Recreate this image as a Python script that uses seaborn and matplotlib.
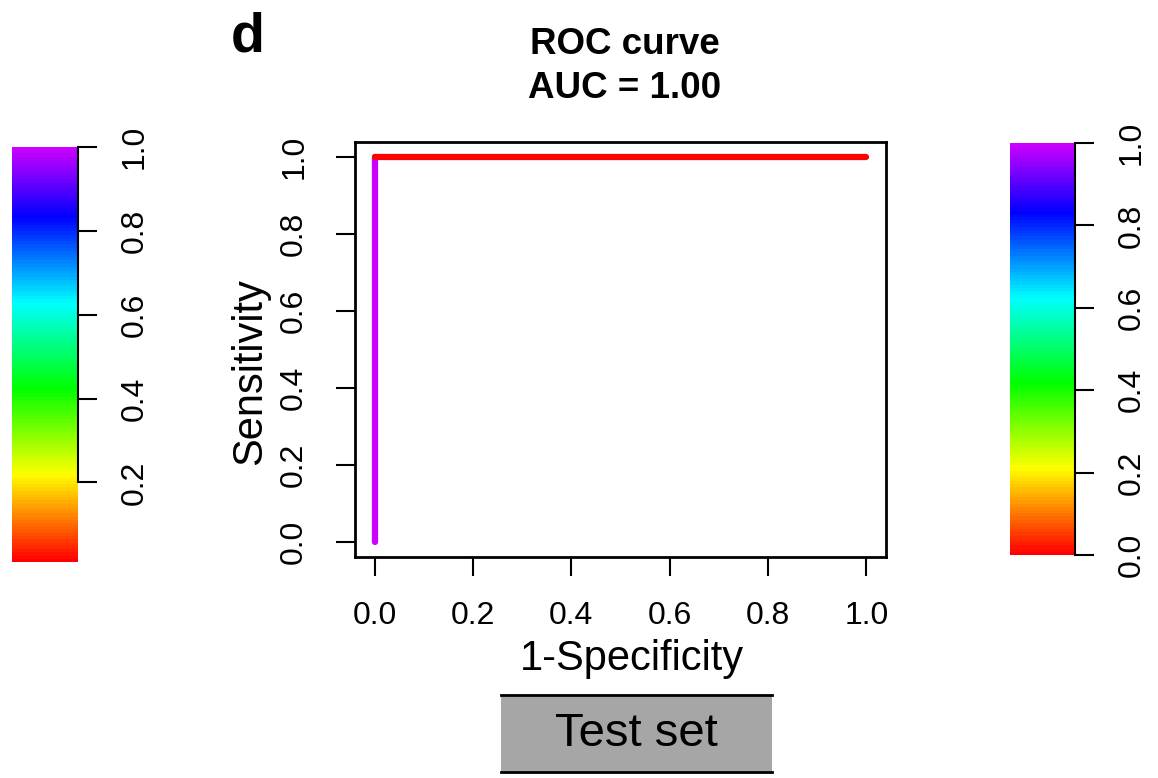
import numpy as np
import pandas as pd
import matplotlib
matplotlib.use("Agg")
import matplotlib.pyplot as plt
from matplotlib.colors import ListedColormap, hsv_to_rgb
import seaborn as sns

# ROC points (1-specificity, sensitivity) and the cutoff that colours each segment
fpr = [0.0, 0.0, 0.111, 0.222, 0.333, 0.444, 0.556, 0.667, 0.778, 0.889, 1.0]
tpr = [0.0, 1.0, 1.0, 1.0, 1.0, 1.0, 1.0, 1.0, 1.0, 1.0, 1.0]
seg_cutoff = [1.0, 0.012, 0.011, 0.011, 0.011, 0.011, 0.010, 0.010, 0.010, 0.010]
auc = 1.00

axis_ticks = [0.0, 0.2, 0.4, 0.6, 0.8, 1.0]
left_key_ticks = [0.2, 0.4, 0.6, 0.8, 1.0]
left_key_range = [0.01, 1.0]
right_key_range = [0.0, 1.0]

sns.set_style("white")
plt.rcParams['font.family'] = ['Liberation Sans', 'DejaVu Sans']
plt.rcParams.update({'text.color': 'black', 'axes.labelcolor': 'black',
                     'xtick.color': 'black', 'ytick.color': 'black'})

# R-like rainbow: red at 0 -> purple at 1
n_bands = 128
hues = np.linspace(0, 0.8, n_bands)
rainbow = ListedColormap(hsv_to_rgb(np.column_stack([hues, np.ones(n_bands), np.ones(n_bands)])))


def cut_color(c, lo, hi):
    return rainbow((c - lo) / (hi - lo))


fig = plt.figure(figsize=(11.58, 7.78), dpi=100)

# main ROC panel
ax = fig.add_axes([355 / 1158, 1 - 557 / 778, 531 / 1158, 415 / 778])
rows = []
for i, c in enumerate(seg_cutoff):
    rows.append({'fpr': fpr[i], 'tpr': tpr[i], 'seg': i})
    rows.append({'fpr': fpr[i + 1], 'tpr': tpr[i + 1], 'seg': i})
df = pd.DataFrame(rows)
pal = {i: cut_color(c, *left_key_range) for i, c in enumerate(seg_cutoff)}
sns.lineplot(data=df, x='fpr', y='tpr', hue='seg', palette=pal, units='seg',
             estimator=None, sort=False, legend=False, linewidth=4.5,
             solid_capstyle='round', ax=ax)

ax.set_xlim(-0.04, 1.04)
ax.set_ylim(-0.04, 1.04)
ax.set_xticks(axis_ticks)
ax.set_yticks(axis_ticks)
ax.set_xticklabels([f'{t:.1f}' for t in axis_ticks])
ax.set_yticklabels([f'{t:.1f}' for t in axis_ticks], rotation=90, va='center')
ax.tick_params(direction='out', length=14, width=1.5, labelsize=23,
               bottom=True, left=True, color='black', labelcolor='black')
ax.tick_params(axis='x', pad=18)
ax.tick_params(axis='y', pad=19)
for s in ax.spines.values():
    s.set_visible(True)
    s.set_linewidth(2.0)
    s.set_color('black')
ax.set_xlabel('')
ax.set_ylabel('')

fig.text(632 / 1158, 1 - 659 / 778, '1-Specificity', fontsize=30, ha='center', va='center')
fig.text(250 / 1158, 1 - 372 / 778, 'Sensitivity', fontsize=30, ha='center', va='center', rotation=90)
fig.text(625 / 1158, 1 - 45 / 778, 'ROC curve', fontsize=26.5, fontweight='bold', ha='center', va='center')
fig.text(625 / 1158, 1 - 88 / 778, f'AUC = {auc:.2f}', fontsize=26.5, fontweight='bold', ha='center', va='center')
fig.text(248 / 1158, 1 - 38 / 778, 'd', fontsize=40, fontweight='bold', ha='center', va='center')


def color_key(rect, rng, ticks):
    kax = fig.add_axes(rect)
    lo, hi = rng
    vals = np.linspace(lo, hi, n_bands)[:, None]
    kax.imshow(vals, extent=[0, 1, lo, hi], origin='lower', aspect='auto',
               cmap=rainbow, vmin=lo, vmax=hi, interpolation='nearest')
    kax.set_xlim(0, 1)
    kax.set_ylim(lo, hi)
    kax.set_xticks([])
    kax.yaxis.tick_right()
    kax.set_yticks(ticks)
    kax.set_yticklabels([f'{t:.1f}' for t in ticks], rotation=90, va='center')
    kax.tick_params(axis='y', direction='out', length=14, width=1.5, labelsize=23,
                    pad=16, right=True, left=False, color='black', labelcolor='black')
    for name, s in kax.spines.items():
        s.set_visible(name == 'right')
    kax.spines['right'].set_linewidth(1.5)
    kax.spines['right'].set_color('black')
    kax.spines['right'].set_bounds(ticks[0], ticks[-1])
    return kax


color_key([12 / 1158, 1 - 562 / 778, 66 / 1158, 415 / 778], left_key_range, left_key_ticks)
color_key([1010 / 1158, 1 - 555 / 778, 65 / 1158, 412 / 778], right_key_range, axis_ticks)

# "Test set" strip
sax = fig.add_axes([501 / 1158, 1 - 772 / 778, 271 / 1158, 77 / 778])
sax.set_facecolor('#A6A6A6')
sax.set_xticks([])
sax.set_yticks([])
for name, s in sax.spines.items():
    s.set_visible(name in ('top', 'bottom'))
    s.set_linewidth(2.0)
    s.set_color('black')
sax.text(0.5, 0.5, 'Test set', fontsize=34, color='black', ha='center', va='center',
         transform=sax.transAxes)

fig.savefig('out.png', dpi=100)
